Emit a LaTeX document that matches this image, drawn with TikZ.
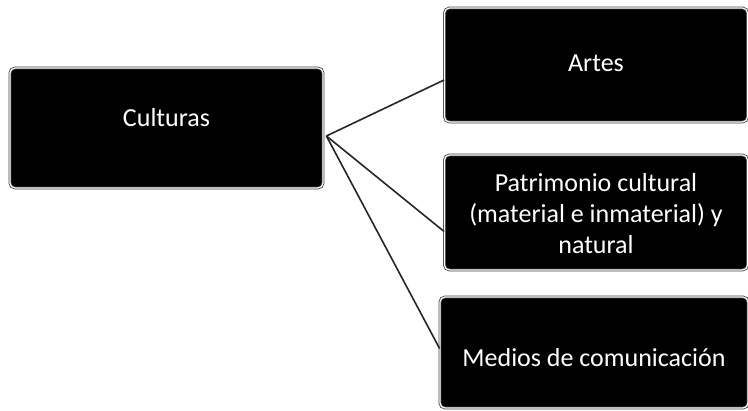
\documentclass[tikz,border=0pt]{standalone}
\usepackage{fontspec}
\setmainfont{Carlito}
\begin{document}
\begin{tikzpicture}[x=1pt,y=-1pt,
  box/.style={draw=black!75, double=white, double distance=1.2pt, line width=0.8pt, fill=black,
    rounded corners=5pt, inner sep=0pt},
  lbl/.style={text=white, align=center, inner sep=0pt, font=\fontsize{26}{31}\selectfont},
  link/.style={draw=black!85, line width=1.6pt}]
\useasboundingbox (0,0) rectangle (748,411);
\node[box, minimum width=313pt, minimum height=120pt] (cult) at (166.5,128) {};
\node[box, minimum width=303pt, minimum height=114pt] (artes) at (596,65) {};
\node[box, minimum width=303pt, minimum height=115pt] (patr) at (596,212.5) {};
\node[box, minimum width=308pt, minimum height=111pt] (medios) at (594,352.5) {};
\node[lbl] (tcult) at ([yshift=10pt]cult.center) {Culturas};
\node[lbl] (tartes) at ([yshift=2pt]artes.center) {Artes};
\node[lbl] (tpatr) at ([yshift=-1pt]patr.center) {Patrimonio cultural\\(material e inmaterial) y\\natural};
\node[lbl] (tmedios) at ([yshift=-5pt]medios.center) {Medios de comunicación};
\coordinate (hub) at ([xshift=3pt,yshift=-8pt]cult.east);
\coordinate (ea) at ([yshift=-15pt]artes.west);
\coordinate (ep) at ([yshift=-19pt]patr.west);
\coordinate (em) at ([yshift=4pt]medios.west);
\draw[link] (hub) -- (ea);
\draw[link] (hub) -- (ep);
\draw[link] (hub) -- (em);
\end{tikzpicture}
\end{document}
